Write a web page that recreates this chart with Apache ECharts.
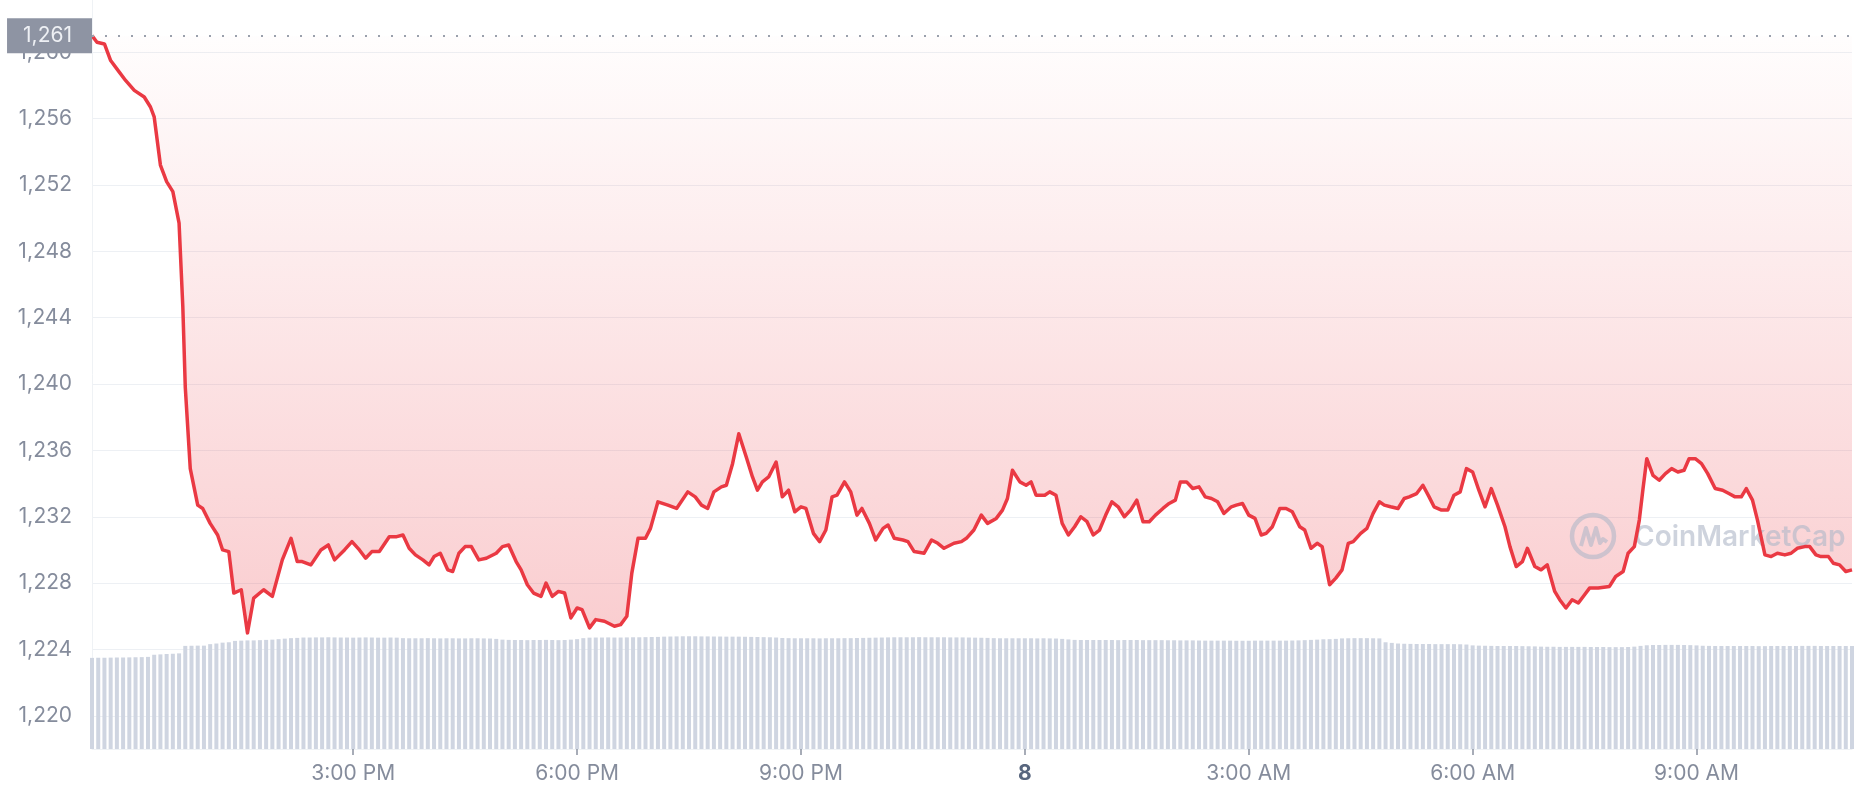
<!DOCTYPE html>
<html>
<head>
<meta charset="utf-8">
<script src="https://cdn.jsdelivr.net/npm/echarts@6/dist/echarts.min.js"></script>
<style>
html,body{margin:0;padding:0;background:#fff;}
#chart{width:1858px;height:800px;}
</style>
</head>
<body>
<div id="chart"></div>
<script>
// Time unit: minutes after 11:00 AM (day 7). 780 = midnight (day 8).
const openPrice = 1261;
const priceTime = [
30,34,40,45,50,57,64,72,77,80,85,90,95,100,103,105,109,115,119,125,131,135,140,144,150,155,
160,168,175,183,190,195,199,206,214,220,225,233,239,245,250,255,261,269,275,280,285,290,296,301,
305,310,316,320,325,330,335,341,347,355,360,365,371,375,380,385,391,395,400,405,410,415,420,424,
430,435,442,450,455,460,464,469,475,479,485,493,500,509,515,520,525,530,536,540,545,550,556,561,
565,569,574,580,585,590,595,600,604,610,615,620,625,629,635,640,645,649,655,660,666,670,675,682,
686,691,699,705,710,715,723,729,733,739,745,750,757,762,766,770,776,781,785,789,796,800,805,810,
815,820,825,830,835,840,845,850,855,860,865,870,875,880,885,891,896,901,905,910,915,920,925,930,
935,940,946,950,955,960,965,970,974,979,985,990,995,1001,1005,1010,1015,1019,1025,1030,1035,1040,
1044,1050,1055,1060,1065,1069,1074,1080,1085,1089,1095,1100,1105,1109,1115,1120,1125,1130,1135,1140,
1145,1150,1155,1160,1166,1170,1175,1180,1184,1190,1195,1200,1206,1210,1215,1220,1225,1230,1234,1241,
1250,1255,1261,1265,1270,1274,1277,1280,1285,1290,1295,1300,1305,1310,1314,1319,1324,1329,1335,1341,
1346,1351,1356,1360,1365,1369,1375,1380,1385,1391,1396,1401,1407,1411,1416,1420,1426,1430,1435,1440,1445
];
const priceValue = [
1261.0,1260.6,1260.5,1259.5,1259.0,1258.3,1257.7,1257.3,1256.7,1256.1,1253.2,1252.2,1251.6,1249.7,1244.7,1239.8,1234.9,1232.7,1232.5,1231.6,1230.9,1230.0,1229.9,1227.4,1227.6,1225.0,
1227.1,1227.6,1227.2,1229.4,1230.7,1229.3,1229.3,1229.1,1230.0,1230.3,1229.4,1230.0,1230.5,1230.0,1229.5,1229.9,1229.9,1230.8,1230.8,1230.9,1230.1,1229.7,1229.4,1229.1,
1229.6,1229.8,1228.8,1228.7,1229.8,1230.2,1230.2,1229.4,1229.5,1229.8,1230.2,1230.3,1229.3,1228.8,1227.9,1227.4,1227.2,1228.0,1227.2,1227.5,1227.4,1225.9,1226.5,1226.4,
1225.3,1225.8,1225.7,1225.4,1225.5,1226.0,1228.6,1230.7,1230.7,1231.3,1232.9,1232.7,1232.5,1233.5,1233.2,1232.7,1232.5,1233.5,1233.8,1233.9,1235.2,1237.0,1235.6,1234.4,
1233.6,1234.1,1234.4,1235.3,1233.2,1233.6,1232.3,1232.6,1232.5,1231.0,1230.5,1231.2,1233.2,1233.3,1234.1,1233.5,1232.1,1232.5,1231.6,1230.6,1231.3,1231.5,1230.7,1230.6,
1230.5,1229.9,1229.8,1230.6,1230.4,1230.1,1230.4,1230.5,1230.7,1231.2,1232.1,1231.6,1231.9,1232.4,1233.1,1234.8,1234.1,1233.9,1234.1,1233.3,1233.3,1233.5,1233.3,1231.6,
1230.9,1231.4,1232.0,1231.7,1230.9,1231.2,1232.1,1232.9,1232.6,1232.0,1232.4,1233.0,1231.7,1231.7,1232.1,1232.5,1232.8,1233.0,1234.1,1234.1,1233.7,1233.8,1233.2,1233.1,
1232.9,1232.2,1232.6,1232.7,1232.8,1232.1,1231.9,1230.9,1231.0,1231.4,1232.5,1232.5,1232.3,1231.4,1231.2,1230.1,1230.4,1230.2,1227.9,1228.3,1228.8,1230.4,
1230.5,1231.0,1231.3,1232.2,1232.9,1232.7,1232.6,1232.5,1233.1,1233.2,1233.4,1233.9,1233.2,1232.6,1232.4,1232.4,1233.3,1233.5,1234.9,1234.7,
1233.6,1232.6,1233.7,1232.7,1231.4,1230.2,1229.0,1229.3,1230.1,1229.0,1228.8,1229.1,1227.5,1227.0,1226.5,1227.0,1226.8,1227.3,1227.7,1227.7,
1227.8,1228.4,1228.7,1229.8,1230.2,1231.8,1233.7,1235.5,1234.5,1234.2,1234.6,1234.9,1234.7,1234.8,1235.5,1235.5,1235.2,1234.6,1233.7,1233.6,
1233.4,1233.2,1233.2,1233.7,1233.0,1231.8,1229.7,1229.6,1229.8,1229.7,1229.8,1230.1,1230.2,1230.2,1229.7,1229.6,1229.6,1229.2,1229.1,1228.7,1228.8
];
// Volume bars, one every 5 minutes starting at 11:30 AM (billions)
const volumeStart = 30;
const volumeStep = 5;
const volumeValues = [
7.30,7.31,7.31,7.32,7.33,7.33,7.34,7.35,7.36,7.38,
7.55,7.58,7.61,7.63,7.66,
8.26,8.27,8.28,8.28,8.40,8.45,8.52,8.55,
8.66,8.68,8.70,8.70,8.72,8.74,8.76,8.80,8.84,8.88,8.90,
8.93,8.93,8.94,8.94,8.95,8.94,8.93,8.93,8.92,8.93,8.94,8.93,8.92,8.92,8.93,8.92,
8.88,8.87,8.87,8.87,8.88,8.87,8.86,8.87,8.87,8.86,8.86,8.87,8.87,8.86,8.85,8.82,
8.76,8.74,8.73,8.73,8.72,8.73,8.73,8.74,8.73,8.72,8.73,8.76,8.80,
8.88,8.92,8.93,8.93,8.94,8.93,8.93,8.94,8.95,8.95,8.96,8.97,8.98,
9.00,9.01,9.02,9.03,9.03,9.03,9.02,9.02,9.01,9.01,9.00,9.00,9.00,8.99,8.98,8.97,8.96,8.95,8.93,
8.89,8.88,8.87,8.87,8.87,8.87,8.86,8.87,8.87,8.87,8.88,8.88,8.89,8.90,8.91,8.92,
8.93,8.94,8.95,8.95,8.95,8.95,8.96,8.95,8.95,8.95,8.95,8.94,8.94,8.94,8.93,8.92,8.91,8.90,
8.88,8.87,8.87,8.87,8.87,8.87,8.87,8.86,8.87,8.86,8.85,8.82,8.78,
8.74,8.73,8.73,8.73,8.73,8.73,8.73,8.72,8.73,8.73,8.73,8.72,8.72,8.72,8.72,8.71,8.71,8.70,8.70,8.70,8.69,
8.68,8.68,8.68,8.68,8.68,8.67,8.67,8.67,8.68,8.68,8.68,8.68,8.68,8.68,8.69,8.70,8.72,8.74,8.76,
8.79,8.80,8.82,
8.86,8.87,8.88,8.88,8.88,8.87,8.86,
8.55,8.50,
8.45,8.43,8.42,8.41,8.41,8.41,8.40,8.40,8.40,8.40,8.39,8.37,
8.30,8.28,8.27,8.26,8.25,8.25,8.25,8.25,8.24,8.23,8.22,
8.20,8.19,8.19,8.18,8.18,8.18,8.18,8.18,8.17,8.17,8.17,8.16,8.16,8.16,8.17,8.20,8.26,
8.31,8.33,8.33,8.34,8.34,8.34,8.33,8.32,8.30,
8.27,8.26,8.25,8.25,8.25,8.25,8.25,8.25,8.25,8.24,8.24,8.25,8.25,8.25,8.25,8.25,8.26,8.26,8.26,8.25,8.25,8.25,8.25,8.25,8.25
];
const xTickValues = [240, 420, 600, 780, 960, 1140, 1320];
const xTickLabels = ['3:00 PM', '6:00 PM', '9:00 PM', '8', '3:00 AM', '6:00 AM', '9:00 AM'];
const yMin = 1218, yMax = 1263.15, yStep = 2;

const priceData = priceTime.map((t, i) => [t, priceValue[i]]);
const volumeData = volumeValues.map((v, i) => [volumeStart + volumeStep * i, v]);

const chart = echarts.init(document.getElementById('chart'), null, {renderer: 'canvas'});
const FONT = 'Inter, "Noto Sans", sans-serif';
const GRID = {left: 92, right: 6, top: 0, bottom: 51};

chart.setOption({
  animation: false,
  backgroundColor: '#ffffff',
  grid: GRID,
  xAxis: {
    type: 'value',
    min: priceTime[0],
    max: priceTime[priceTime.length - 1],
    splitLine: {show: false},
    axisLine: {show: true, lineStyle: {color: '#eff2f5', width: 1}},
    axisTick: {show: true, customValues: xTickValues, length: 6, lineStyle: {color: '#8a91a0', width: 1.5}},
    axisLabel: {
      customValues: xTickValues,
      margin: 14,
      fontFamily: FONT,
      fontSize: 21,
      color: '#858c9c',
      formatter: function (v) {
        const idx = xTickValues.indexOf(Math.round(v));
        const s = idx >= 0 ? xTickLabels[idx] : '';
        return s === '8' ? '{b|8}' : s;
      },
      rich: {b: {fontFamily: FONT, fontSize: 21, fontWeight: 'bold', color: '#58667e'}}
    }
  },
  yAxis: [{
    type: 'value',
    min: yMin,
    max: yMax,
    interval: yStep,
    axisLine: {show: true, lineStyle: {color: '#eff2f5', width: 1}},
    axisTick: {show: false},
    splitLine: {show: true, showMaxLine: false, lineStyle: {color: ['rgba(0,0,0,0)', '#edf0f4'], width: 1}},
    axisLabel: {
      margin: 20,
      fontFamily: FONT,
      fontSize: 21,
      color: '#858c9c',
      showMaxLabel: false,
      formatter: function (v) {
        const r = Math.round(v * 100) / 100;
        if (r % 4 !== 0 || r > openPrice) return '';
        return r.toLocaleString('en-US');
      }
    }
  }, {
    type: 'value',
    min: 0,
    max: 60,
    show: false,
    splitLine: {show: false}
  }],
  graphic: [{
    type: 'group',
    z: 2,
    children: [{
      type: 'circle',
      shape: {cx: 1593, cy: 536, r: 21},
      style: {fill: 'none', stroke: 'rgba(176,184,200,0.6)', lineWidth: 4.5},
      z: 2
    }, {
      type: 'polyline',
      shape: {points: [[1581, 546], [1586, 528], [1591, 545], [1596, 528], [1600, 543], [1603, 539], [1607, 542]]},
      style: {fill: 'none', stroke: 'rgba(176,184,200,0.6)', lineWidth: 4, lineJoin: 'round'},
      z: 2
    }, {
      type: 'text',
      style: {
        x: 1634, y: 538, text: 'CoinMarketCap',
        font: '600 28px Inter, "Noto Sans", sans-serif',
        fill: 'rgba(176,184,200,0.62)', verticalAlign: 'middle', align: 'left'
      },
      z: 2
    }]
  }],
  series: [{
    name: 'Volume',
    type: 'bar',
    xAxisIndex: 0,
    yAxisIndex: 1,
    barWidth: 4,
    z: 1,
    itemStyle: {color: '#cfd5e1'},
    data: volumeData,
    silent: true
  }, {
    name: 'PriceArea',
    type: 'line',
    xAxisIndex: 0,
    yAxisIndex: 0,
    data: priceData,
    symbol: 'none',
    z: 1,
    lineStyle: {width: 0},
    areaStyle: {
      origin: openPrice,
      color: new echarts.graphic.LinearGradient(0, 0, 0, 1, [
        {offset: 0, color: 'rgba(234,57,67,0.01)'},
        {offset: 1, color: 'rgba(234,57,67,0.36)'}
      ])
    },
    silent: true
  }, {
    name: 'Price',
    type: 'line',
    xAxisIndex: 0,
    yAxisIndex: 0,
    data: priceData,
    symbol: 'none',
    z: 5,
    lineStyle: {color: '#ea3943', width: 3.5, join: 'round'},
    markLine: {
      silent: true,
      symbol: 'none',
      z: 6,
      lineStyle: {type: [2, 11], color: '#9aa0ac', width: 2},
      label: {
        show: true,
        position: 'start',
        distance: 0,
        formatter: function () { return openPrice.toLocaleString('en-US'); },
        fontFamily: FONT,
        fontSize: 21,
        color: '#eef0f4',
        backgroundColor: '#8e94a3',
        padding: [7, 20, 7, 16]
      },
      data: [{yAxis: openPrice}]
    }
  }]
});
</script>
</body>
</html>
